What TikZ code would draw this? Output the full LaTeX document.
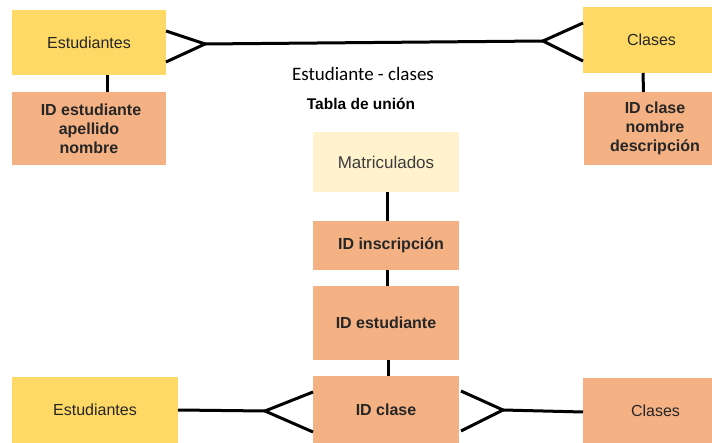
\documentclass[tikz,border=0pt]{standalone}
\usepackage{fontspec}
\setmainfont{Liberation Sans}
\newfontfamily\calib{Carlito}
\definecolor{yel}{HTML}{FFD966}
\definecolor{ora}{HTML}{F4B183}
\definecolor{pale}{HTML}{FFF2CC}
\definecolor{txt}{HTML}{262626}
\begin{document}
\begin{tikzpicture}[x=1pt,y=-1pt,
  box/.style={inner sep=0pt, outer sep=0pt, text=txt, align=center, font=\fontsize{16}{19}\selectfont},
  boldbox/.style={box, font=\fontsize{16}{19}\selectfont\bfseries},
  link/.style={line width=3pt, line cap=butt, line join=miter, draw=black}]
\useasboundingbox (0,0) rectangle (712,443);
% top row
\node[box, fill=yel, minimum width=154, minimum height=65] (e1) at (89,42.5) {Estudiantes};
\node[boldbox, fill=ora, minimum width=154, minimum height=73] (e2) at (89,128.5) {\hspace{4pt}ID estudiante\\apellido\\nombre};
\node[box, fill=yel, minimum width=129, minimum height=66] (c1) at (647.5,40) {\hspace{8pt}Clases};
\node[boldbox, fill=ora, minimum width=128, minimum height=73] (c2) at (648,128.5) {\hspace{14pt}\begin{tabular}{@{}c@{}}ID clase\\nombre\\descripción\end{tabular}};
% labels
\node[font=\calib\fontsize{19}{22}\selectfont, text=black] (t1) at (363,74) {Estudiante - clases};
\node[font=\fontsize{15.5}{18}\selectfont\bfseries, text=black] (t2) at (361,104) {Tabla de unión};
% middle column
\node[box, fill=pale, minimum width=146, minimum height=60, font=\fontsize{17}{20}\selectfont, text=txt!90] (m1) at (386,162) {Matriculados};
\node[boldbox, fill=ora, minimum width=146, minimum height=49] (m2) at (386,245.5) {\hspace{10pt}ID inscripción};
\node[boldbox, fill=ora, minimum width=146, minimum height=74] (m3) at (386,323) {ID estudiante};
% bottom row
\node[box, fill=yel, minimum width=166, minimum height=66] (b1) at (95,410) {Estudiantes};
\node[boldbox, fill=ora, minimum width=146, minimum height=67] (b2) at (386,409.5) {ID clase};
\node[box, fill=ora, minimum width=129, minimum height=65] (b3) at (647.5,410.5) {\hspace{16pt}\raisebox{-4pt}{Clases}};
% crow's foot connectors top
\coordinate (f1) at (205,44);
\coordinate (f2) at (543,41);
\draw[link] ([yshift=11.5pt]e1.east) -- (f1) -- ([yshift=-19.5pt]e1.east);
\draw[link] (f1) -- (f2);
\draw[link] ([yshift=17pt]c1.west) -- (f2) -- ([yshift=-21pt]c1.west);
% attribute connectors
\draw[link] ([xshift=18pt]e1.south) -- ([xshift=18pt]e2.north);
\draw[link] ([xshift=-4.5pt]c1.south) -- ([xshift=-4.5pt]c2.north);
\draw[link] ([xshift=1pt]m1.south) -- ([xshift=1pt]m2.north);
\draw[link] ([xshift=1pt]m2.south) -- ([xshift=1pt]m3.north);
\draw[link] ([xshift=2pt]m3.south) -- ([xshift=2pt]b2.north);
% bottom crow's feet
\coordinate (f3) at (265,411);
\coordinate (f4) at (503,410);
\draw[link] (b1.east) -- (f3);
\draw[link] ([yshift=17.5pt]b2.west) -- (f3) -- ([yshift=-22.5pt]b2.west);
\draw[link] ([xshift=2pt,yshift=18.5pt]b2.east) -- (f4) -- ([xshift=2pt,yshift=-21.5pt]b2.east);
\draw[link] (f4) -- ([yshift=-1.5pt]b3.west);
\end{tikzpicture}
\end{document}
